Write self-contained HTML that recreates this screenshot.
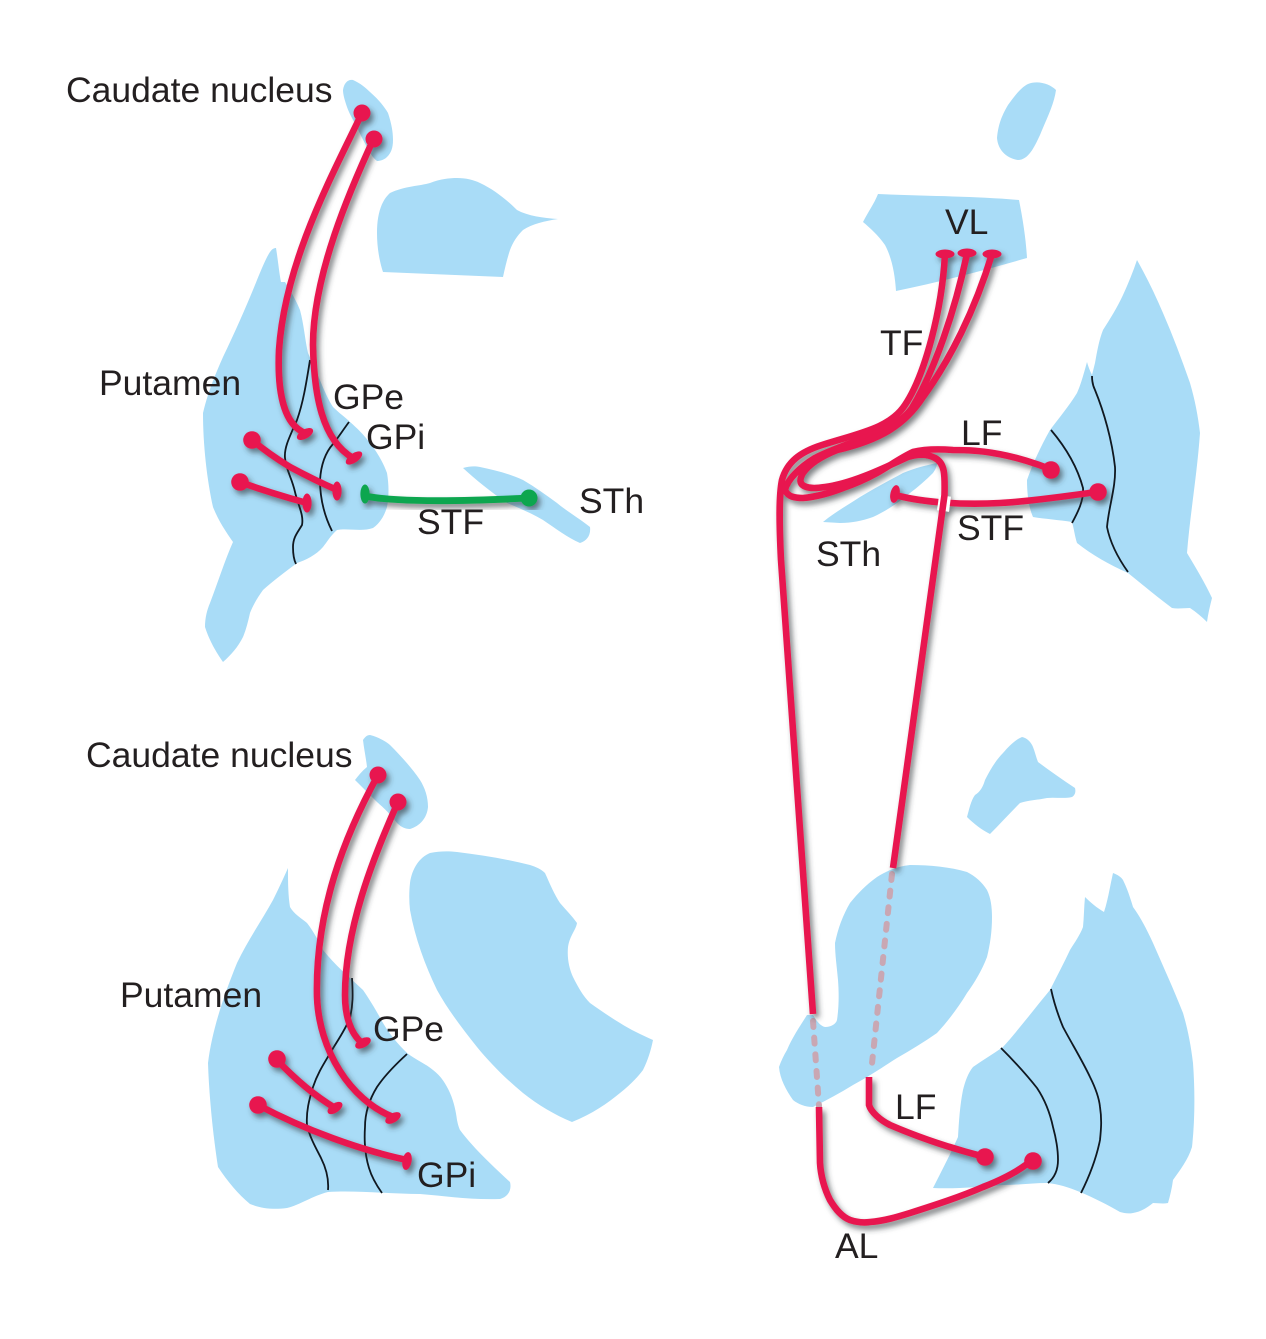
<!DOCTYPE html>
<html>
<head>
<meta charset="utf-8">
<style>
html,body{margin:0;padding:0;background:#fff;width:1266px;height:1339px;overflow:hidden}
svg{display:block}
text{font-family:"Liberation Sans",Arial,sans-serif;font-size:35.5px;fill:#231f20}
.b{fill:#a9dcf7;stroke:none}
.k{fill:none;stroke:#101820;stroke-width:1.8;stroke-linecap:butt}
.r{fill:none;stroke:#e8194f;stroke-width:6.6;stroke-linecap:butt;stroke-linejoin:round}
.rf{fill:#e8194f}
.g{fill:none;stroke:#0aa650;stroke-width:6.8;stroke-linecap:round}
.gf{fill:#0aa650}
.d{fill:none;stroke:#c9a7b3;stroke-width:6;stroke-dasharray:6 10.7;stroke-linecap:round}
</style>
</head>
<body>
<svg width="1266" height="1339" viewBox="0 0 1266 1339" xmlns="http://www.w3.org/2000/svg">
<defs>
<filter id="s" x="-10%" y="-10%" width="125%" height="125%">
<feDropShadow dx="3" dy="4" stdDeviation="2.8" flood-color="#30363a" flood-opacity="0.62"/>
</filter>
</defs>

<!-- blue regions -->
<g class="b">
<!-- top-left -->
<path d="M343 90 C344 83 348 79 353 80 C360 83 366 88 370 92 C378 99 384 106 388 113 C391 122 393 131 393 140 C393 148 391 153 387 157 C384 160 380 161 377 161 C373 158 370 153 367 147 C363 140 360 134 357 127 C353 120 349 113 347 107 C345 101 343 95 343 90Z"/>
<path d="M377 233 C377 215 381 201 390 193 C405 186 420 186 430 183 C440 179 450 178 457 178 C466 178 474 180 480 183 C495 190 508 201 517 210 C528 216 543 218 558 219 C545 221 532 224 523 230 C517 236 513 242 510 250 C507 259 505 268 503 277 L383 272 C379 260 377 246 377 233Z"/>
<path d="M276 248 C278 260 279 272 281 282 L285 282 C290 290 296 300 300 310 C304 325 305 340 308 353 C311 360 314 366 317 373 C322 385 327 398 333 407 C339 413 345 417 350 422 C357 428 364 435 370 443 C377 452 383 462 387 473 C389 485 389 497 387 507 C384 517 379 524 373 528 C362 532 348 528 337 530 C331 535 327 542 323 547 C316 555 306 560 297 563 C285 572 273 581 263 590 C258 597 253 605 250 613 C248 622 246 630 243 637 C238 647 231 655 223 662 C216 652 209 640 205 627 C205 618 207 610 210 603 C218 582 225 560 233 542 C226 532 218 520 213 507 C207 480 203 445 203 413 C208 392 215 375 223 357 C235 332 247 305 257 280 C262 268 266 258 270 252 C272 249 274 248 276 248Z"/>
<path d="M463 468 C470 466 475 466 480 467 C495 470 510 474 523 480 C535 487 546 495 557 503 C568 512 580 519 590 527 C591 535 587 541 580 543 C568 538 555 528 543 520 C531 513 519 508 507 503 C491 492 476 480 463 468Z"/>
<!-- bottom-left -->
<path d="M370 735 C378 737 385 741 390 745 C400 755 412 768 420 780 C425 788 428 797 428 807 C427 818 420 826 410 829 C405 829 401 827 397 823 C391 815 384 808 377 802 C370 795 362 787 355 780 C358 776 362 771 367 767 C366 758 364 749 363 740 C365 737 367 735 370 735Z"/>
<path d="M410 883 C412 868 420 857 430 853 C440 851 448 851 457 852 C482 855 506 859 530 865 C536 867 541 869 545 873 C550 884 554 894 560 903 C566 910 572 916 577 923 C576 930 570 935 568 947 C567 958 569 968 573 977 C578 987 583 996 590 1003 C600 1010 610 1017 620 1023 C631 1030 642 1035 653 1040 C651 1050 648 1060 643 1070 C637 1078 629 1086 620 1093 C608 1103 592 1114 572 1122 C555 1115 538 1105 523 1093 C506 1079 490 1063 477 1047 C462 1028 448 1010 437 990 C425 965 415 938 410 910 C409 901 409 892 410 883Z"/>
<path d="M288 868 C288 881 288 895 290 907 C294 914 301 918 307 923 C314 932 319 942 323 950 C335 965 349 977 363 990 C370 1000 377 1012 383 1023 C390 1035 398 1044 407 1053 C416 1060 426 1064 433 1070 C441 1076 446 1084 450 1093 C454 1102 456 1112 457 1120 C458 1125 459 1128 460 1130 C475 1150 495 1168 510 1182 C512 1190 508 1197 500 1199 C470 1200 445 1196 420 1194 C390 1194 355 1190 328 1192 C312 1196 300 1205 287 1208 C272 1210 260 1208 250 1204 C238 1194 228 1182 218 1167 C213 1135 209 1095 208 1063 C212 1030 224 995 237 963 C248 940 262 920 273 900 C279 888 284 877 288 868Z"/>
<!-- top-right -->
<path d="M1028 84 C1038 80 1050 84 1056 90 C1054 105 1046 120 1040 135 C1034 148 1028 160 1018 160 C1006 158 998 150 997 138 C998 125 1002 115 1008 105 C1014 97 1020 88 1028 84Z"/>
<path d="M878 194 C920 196 975 196 1019 200 C1023 220 1026 240 1027 258 C985 270 940 282 896 291 C895 275 892 258 885 245 C878 235 870 228 863 222 C868 212 874 204 878 194Z"/>
<path d="M1137 260 C1133 272 1128 284 1123 295 C1117 308 1110 319 1103 330 C1099 340 1097 352 1095 363 L1092 375 C1090 371 1088 366 1087 362 C1084 373 1081 384 1077 393 C1069 406 1059 418 1050 430 C1041 446 1033 463 1027 480 C1027 495 1029 508 1033 517 C1045 519 1060 520 1072 522 C1074 529 1075 537 1077 543 C1092 555 1110 565 1128 573 C1143 585 1157 597 1172 608 C1178 609 1184 608 1190 608 C1196 612 1202 617 1207 622 C1208 614 1210 606 1212 598 C1205 583 1196 568 1187 553 C1190 515 1197 475 1200 433 C1198 416 1195 400 1190 383 C1182 360 1173 336 1163 313 C1155 294 1146 276 1137 260Z"/>
<path d="M823 522 C835 512 848 505 860 497 C875 488 890 480 903 473 C915 468 927 465 937 463 C937 467 935 470 933 473 C926 480 918 487 910 493 C898 503 886 511 873 517 C862 521 851 523 840 523Z"/>
<!-- bottom-right -->
<path d="M1022 737 C1027 738 1031 742 1033 747 C1035 752 1036 757 1038 762 C1050 771 1063 780 1075 788 C1076 792 1075 795 1072 797 C1064 799 1055 797 1047 798 C1038 800 1029 800 1020 803 C1010 813 1000 824 990 834 C982 830 974 824 967 817 C969 810 971 800 975 795 C980 792 983 787 985 780 C990 770 996 760 1003 753 C1009 746 1015 740 1022 737Z"/>
<path d="M910 865 C930 865 950 867 967 872 C975 876 982 882 987 890 C991 898 992 908 992 917 C992 932 990 945 987 957 C982 970 975 982 967 993 C958 1008 948 1021 937 1033 C924 1042 911 1050 897 1058 C883 1067 868 1077 853 1085 C840 1093 827 1100 813 1107 C805 1107 798 1104 793 1100 C786 1090 780 1079 779 1067 C781 1061 784 1055 787 1050 C792 1038 800 1026 807 1015 L813 1015 C816 1020 820 1026 825 1027 C831 1027 836 1024 837 1020 C839 1007 839 993 838 980 C837 968 835 955 835 943 C838 928 843 915 850 903 C858 893 867 884 877 877 C888 870 899 866 910 865Z"/>
<path d="M1113 873 C1118 875 1121 877 1123 880 C1127 888 1130 897 1133 907 C1141 918 1147 930 1153 943 C1163 966 1174 990 1183 1013 C1188 1030 1191 1046 1193 1063 C1195 1090 1195 1120 1192 1147 C1188 1160 1180 1170 1173 1180 C1172 1188 1170 1196 1168 1203 C1163 1204 1158 1203 1153 1203 C1147 1208 1140 1212 1133 1213 C1128 1214 1124 1213 1120 1212 C1108 1205 1094 1198 1080 1192 C1068 1187 1058 1184 1047 1183 C1032 1183 1018 1185 1003 1185 C980 1187 955 1189 933 1188 C941 1172 950 1155 958 1137 C959 1120 960 1105 963 1090 C965 1082 968 1073 973 1067 C983 1060 993 1054 1003 1047 C1020 1028 1035 1008 1050 990 C1057 976 1064 963 1070 950 C1075 942 1080 935 1083 927 C1084 917 1084 907 1085 897 C1090 902 1097 908 1104 912 C1108 900 1110 886 1113 873Z"/>
</g>

<!-- black boundary lines -->
<g class="k">
<path d="M310 360 C306 385 303 403 297 420 C289 438 284 448 285 458 C286 470 292 478 295 492 C298 505 304 515 302 525 C298 532 293 537 293 547 C293 555 294 560 296 564"/>
<path d="M349 422 C343 430 338 438 333 444 C325 453 321 465 320 480 C320 495 323 513 332 531"/>
<path d="M352 978 C353 995 353 1005 350 1018 C345 1030 338 1040 332 1050 C325 1062 318 1072 313 1087 C309 1100 306 1112 307 1125 C310 1138 316 1148 321 1158 C326 1168 329 1178 328 1190"/>
<path d="M407 1054 C395 1065 385 1075 377 1087 C369 1100 365 1113 365 1127 C364 1142 365 1155 369 1168 C372 1178 377 1186 382 1193"/>
<path d="M1051 430 C1062 443 1076 462 1083 488 C1084 500 1078 512 1072 523"/>
<path d="M1092 376 C1092 382 1093 386 1095 390 C1104 412 1112 440 1115 467 C1116 487 1109 505 1107 527 C1110 542 1118 558 1128 572"/>
<path d="M1001 1048 C1013 1060 1026 1074 1037 1088 C1045 1100 1050 1113 1053 1127 C1056 1138 1058 1150 1058 1160 C1058 1170 1054 1178 1048 1183"/>
<path d="M1051 989 C1054 1003 1058 1015 1063 1027 C1072 1044 1082 1060 1090 1077 C1095 1087 1099 1097 1100 1107 C1102 1120 1101 1130 1100 1140 C1096 1160 1089 1177 1081 1193"/>
</g>

<!-- dashed continuation -->
<g class="d">
<path d="M813 1021 L819 1106"/>
<path d="M892 874 L871 1073"/>
</g>

<!-- red fibres -->
<g filter="url(#s)">
<g class="r">
<path d="M362 113 C335 170 285 260 279 350 C277 395 285 425 305 433"/>
<path d="M374 138 C350 190 313 275 313 345 C314 395 322 440 353 458"/>
<path d="M252 440 C264 450 277 459 290 467 C305 475 321 483 337 490"/>
<path d="M240 482 C262 490 285 497 307 503"/>

<path d="M378 775 C345 835 315 910 317 997 C319 1050 350 1100 393 1117"/>
<path d="M398 802 C372 860 345 930 345 995 C345 1015 350 1033 362 1043"/>
<path d="M277 1060 C293 1077 312 1094 335 1108"/>
<path d="M258 1105 C305 1130 360 1150 407 1160"/>

<!-- STF right -->
<path d="M895 495 C925 503 965 505 1000 503 C1035 501 1065 496 1097 492"/>
</g>
<path d="M945 496 L943 511" stroke="#fff" stroke-width="12" fill="none"/>
<g class="r">
<path d="M945 254 C942 310 925 375 905 405 C890 428 860 433 822 445 C800 452 787 462 782 480 C779 495 779 520 781 560 L813 1014"/>
<path d="M967 254 C955 310 935 370 912 408 C895 433 850 440 815 458 C800 467 787 480 785 490 C788 497 795 498 803 498 C815 497 830 493 843 488 C855 484 866 479 877 473 C888 467 900 458 913 452 C925 449 940 449 953 450 C968 450 982 451 993 453 C1012 456 1032 462 1050 469"/>
<path d="M992 254 C975 310 950 360 923 397 C905 425 880 440 837 450 C822 456 810 463 803 473 C799 480 800 484 804 486 C810 489 818 488 825 487 C850 484 880 470 908 457 C918 454 928 454 935 458 C945 463 945 475 944.5 495 L893 868"/>
<path d="M869 1077 L869 1105 C871 1112 880 1120 890 1125 C920 1138 950 1148 985 1157"/>
<path d="M819 1107 L820 1163 C821 1178 825 1190 830 1200 C836 1210 842 1217 850 1220 C856 1222 863 1223 870 1222 C884 1221 897 1217 910 1213 C935 1205 960 1197 983 1187 C1001 1180 1018 1172 1032 1160"/>
</g>
<g class="rf">
<circle cx="362" cy="113" r="8.5"/>
<circle cx="374" cy="139" r="8.5"/>
<circle cx="252" cy="440" r="8.8"/>
<circle cx="240" cy="482" r="8.8"/>
<ellipse cx="305" cy="434" rx="9" ry="4.6" transform="rotate(-30 305 434)"/>
<ellipse cx="354" cy="458" rx="9.5" ry="4.6" transform="rotate(-35 354 458)"/>
<ellipse cx="337" cy="491" rx="4.6" ry="9.5"/>
<ellipse cx="307" cy="503" rx="4.6" ry="9.5"/>

<circle cx="378" cy="775" r="8.5"/>
<circle cx="398" cy="802" r="8.5"/>
<circle cx="277" cy="1059" r="8.8"/>
<circle cx="258" cy="1105" r="8.8"/>
<ellipse cx="363" cy="1043" rx="8.5" ry="4.6" transform="rotate(-28 363 1043)"/>
<ellipse cx="393" cy="1118" rx="8.5" ry="4.6" transform="rotate(-30 393 1118)"/>
<ellipse cx="335" cy="1108" rx="8.5" ry="4.6" transform="rotate(-35 335 1108)"/>
<ellipse cx="407" cy="1161" rx="4.6" ry="9" transform="rotate(10 407 1161)"/>

<ellipse cx="945" cy="254" rx="9.5" ry="4.5"/>
<ellipse cx="967" cy="253" rx="9.5" ry="4.5"/>
<ellipse cx="992" cy="254" rx="9.5" ry="4.5"/>
<circle cx="1051" cy="470" r="8.8"/>
<circle cx="1098" cy="492" r="8.8"/>
<ellipse cx="895" cy="494" rx="4.6" ry="9" transform="rotate(12 895 494)"/>
<circle cx="985" cy="1157" r="8.8"/>
<circle cx="1033" cy="1161" r="8.8"/>
</g>
</g>

<!-- green fibre -->
<g filter="url(#s)">
<path class="g" d="M365 496 C400 503 470 501 529 498"/>
<ellipse class="gf" cx="365" cy="494" rx="4.6" ry="9.5"/>
<circle class="gf" cx="529" cy="498" r="8.5"/>
</g>

<!-- labels -->
<text x="66" y="102">Caudate nucleus</text>
<text x="99" y="395">Putamen</text>
<text x="333" y="409">GPe</text>
<text x="366" y="449">GPi</text>
<text x="417" y="534">STF</text>
<text x="579" y="513">STh</text>

<text x="86" y="767">Caudate nucleus</text>
<text x="120" y="1007">Putamen</text>
<text x="373" y="1041">GPe</text>
<text x="417" y="1187">GPi</text>

<text x="945" y="234">VL</text>
<text x="880" y="355">TF</text>
<text x="961" y="445">LF</text>
<text x="957" y="540">STF</text>
<text x="816" y="566">STh</text>
<text x="895" y="1119">LF</text>
<text x="835" y="1258">AL</text>
</svg>
</body>
</html>
